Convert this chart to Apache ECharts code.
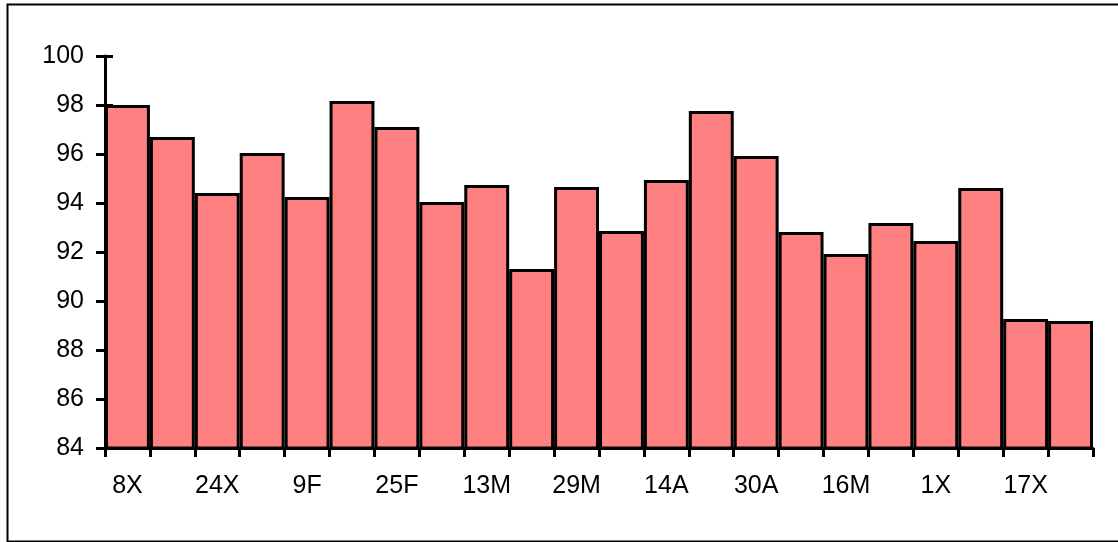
<!DOCTYPE html>
<html>
<head>
<meta charset="utf-8">
<script src="https://cdn.jsdelivr.net/npm/echarts@6/dist/echarts.min.js"></script>
<style>
html,body{margin:0;padding:0;background:#fff;}
#chart{width:1118px;height:542px;}
</style>
</head>
<body>
<div id="chart"></div>
<script>
const categories = ['8X','16X','24X','1F','9F','17F','25F','5M','13M','21M','29M','6A','14A','22A','30A','8M','16M','24M','1X','9X','17X','25X'];
const values = [98.0, 96.69, 94.41, 96.04, 94.24, 98.16, 97.10, 94.04, 94.73, 91.31, 94.65, 92.86, 94.94, 97.76, 95.92, 92.82, 91.92, 93.18, 92.45, 94.61, 89.27, 89.18];
const yMin = 84, yMax = 100, yStep = 2;

const font = 'Liberation Sans, Arial, sans-serif';
const chart = echarts.init(document.getElementById('chart'), null, {renderer: 'canvas'});
const gridPos = {left: 105, right: 25, top: 56, bottom: 94};
chart.setOption({
  animation: false,
  backgroundColor: '#ffffff',
  graphic: [{
    type: 'rect', left: 5, top: 2, silent: true,
    shape: {width: 1125, height: 537},
    style: {fill: 'none', stroke: '#000', lineWidth: 2}
  }],
  grid: [Object.assign({}, gridPos), Object.assign({}, gridPos)],
  xAxis: [{
    gridIndex: 0, type: 'category', data: categories, boundaryGap: true, z: 3,
    axisLine: {lineStyle: {color: '#000', width: 3}},
    axisTick: {show: true, interval: 0, alignWithLabel: false, length: 9, lineStyle: {color: '#000', width: 3}},
    axisLabel: {interval: 1, color: '#000', fontSize: 25, fontFamily: font, margin: 26}
  }, {
    gridIndex: 1, type: 'category', data: categories, show: false
  }],
  yAxis: [{
    gridIndex: 0, type: 'value', min: yMin, max: yMax, interval: yStep,
    axisLine: {show: true, lineStyle: {color: '#000', width: 3}},
    axisTick: {show: true, length: 9, lineStyle: {color: '#000', width: 3}},
    splitLine: {show: false},
    axisLabel: {color: '#000', fontSize: 25, fontFamily: font, margin: 21}
  }, {
    gridIndex: 1, type: 'value', min: yMin, max: yMax, interval: yStep,
    axisLine: {show: false},
    axisTick: {show: true, inside: true, length: 8, lineStyle: {color: '#000', width: 3}},
    splitLine: {show: false},
    axisLabel: {show: false}
  }],
  series: [{
    type: 'bar', xAxisIndex: 0, yAxisIndex: 0, data: values,
    barCategoryGap: 0, barGap: 0, z: 1,
    itemStyle: {color: '#FF8080', borderColor: '#000', borderWidth: 3}
  }]
});
</script>
</body>
</html>
